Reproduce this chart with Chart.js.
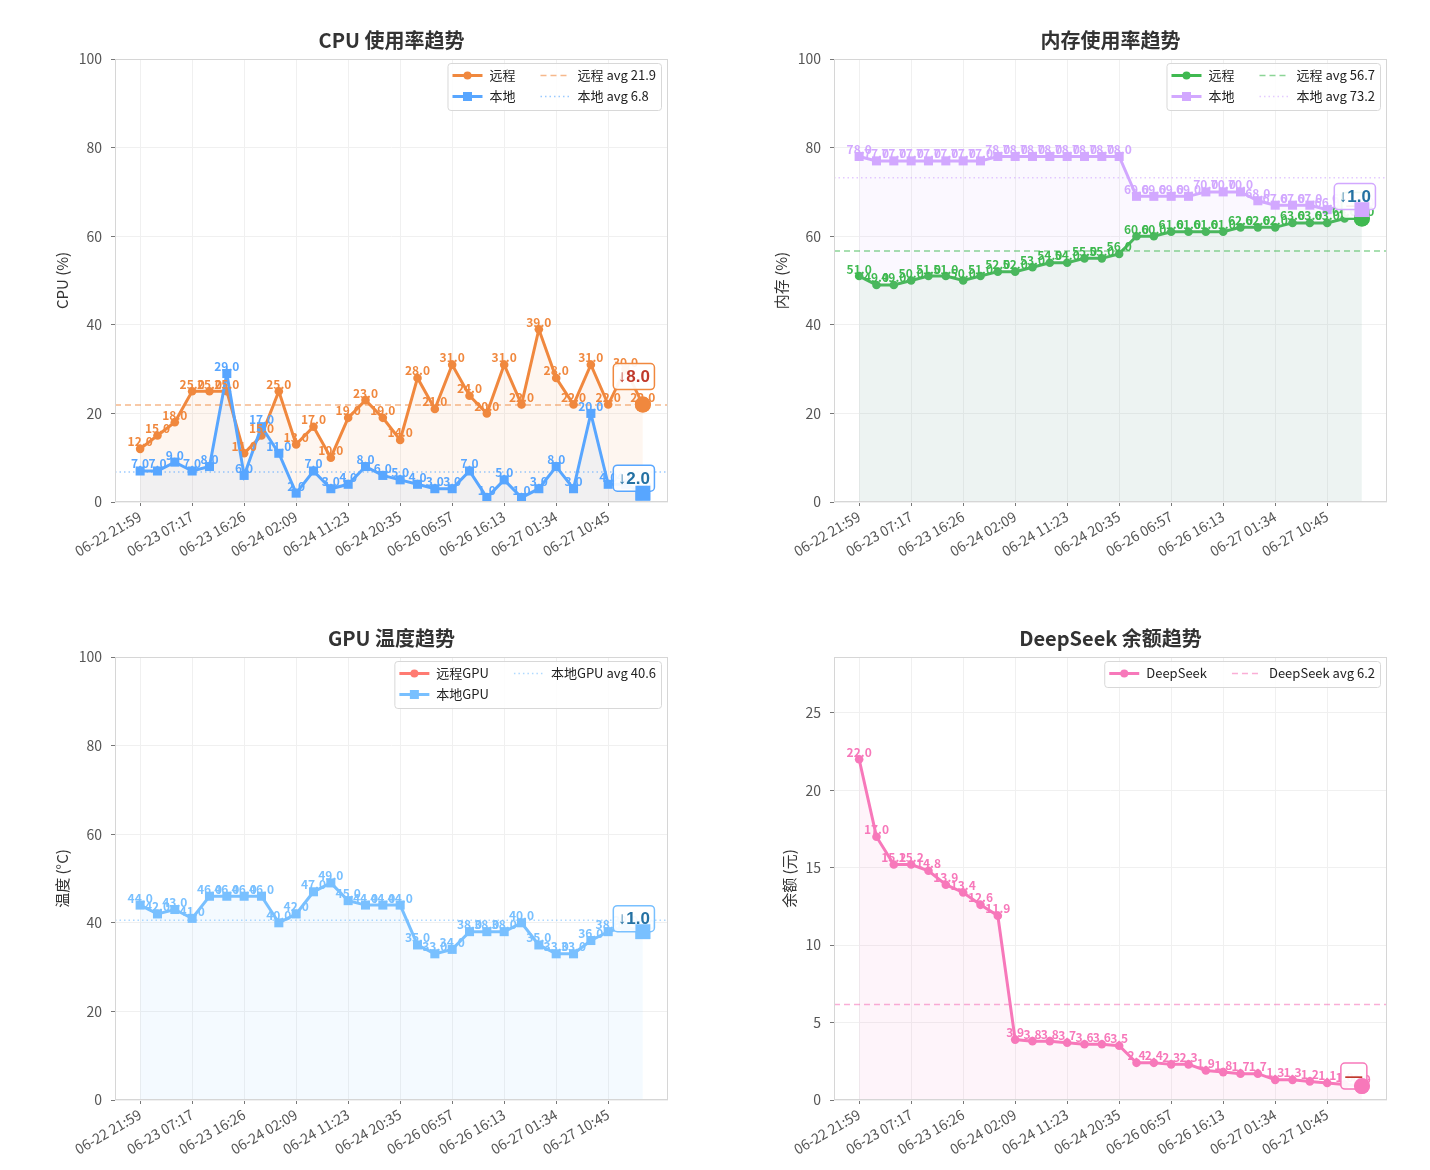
<!DOCTYPE html>
<html lang="zh-CN">
<head>
<meta charset="UTF-8">
<title>资源监控趋势</title>
<script src="https://cdn.jsdelivr.net/npm/chart.js@4.4.1/dist/chart.umd.min.js"></script>
<style>
    html, body { margin: 0; padding: 0; background: #fff; }
    #wrap { position: relative; width: 1430px; height: 1170px; overflow: hidden; }
    #wrap canvas { position: absolute; }
</style>
</head>
<body>
<div id="wrap">
    <canvas id="cpuChart" width="715" height="585" style="left:0;top:0"></canvas>
    <canvas id="memChart" width="715" height="585" style="left:715px;top:0"></canvas>
    <canvas id="gpuChart" width="715" height="572" style="left:0;top:598px"></canvas>
    <canvas id="dsChart" width="715" height="572" style="left:715px;top:598px"></canvas>
</div>
<script>
// ============================================
// DATA
// ============================================

const times = [
    '06-22 21:59', '06-23 01:05', '06-23 04:11', '06-23 07:17', '06-23 10:20',
    '06-23 13:23', '06-23 16:26', '06-23 19:40', '06-23 22:54', '06-24 02:09',
    '06-24 05:13', '06-24 08:18', '06-24 11:23', '06-24 14:27', '06-24 17:31',
    '06-24 20:35', '06-25 08:02', '06-25 19:30', '06-26 06:57', '06-26 10:02',
    '06-26 13:08', '06-26 16:13', '06-26 19:20', '06-26 22:27', '06-27 01:34',
    '06-27 04:37', '06-27 07:41', '06-27 10:45', '06-27 13:50', '06-27 16:54'
];
const xTickIdx = [0, 3, 6, 9, 12, 15, 18, 21, 24, 27];

const cpuRemote = [12, 15, 18, 25, 25, 25, 11, 15, 25, 13, 17, 10, 19, 23, 19, 14, 28, 21, 31, 24, 20, 31, 22, 39, 28, 22, 31, 22, 30, 22];
const cpuLocal  = [7, 7, 9, 7, 8, 29, 6, 17, 11, 2, 7, 3, 4, 8, 6, 5, 4, 3, 3, 7, 1, 5, 1, 3, 8, 3, 20, 4, 4, 2];

const memRemote = [51, 49, 49, 50, 51, 51, 50, 51, 52, 52, 53, 54, 54, 55, 55, 56, 60, 60, 61, 61, 61, 61, 62, 62, 62, 63, 63, 63, 64, 64];
const memLocal  = [78, 77, 77, 77, 77, 77, 77, 77, 78, 78, 78, 78, 78, 78, 78, 78, 69, 69, 69, 69, 70, 70, 70, 68, 67, 67, 67, 66, 67, 66];

const gpuRemote = [];
const gpuLocal  = [44, 42, 43, 41, 46, 46, 46, 46, 40, 42, 47, 49, 45, 44, 44, 44, 35, 33, 34, 38, 38, 38, 40, 35, 33, 33, 36, 38, 39, 38];

const dsBalance = [22.0, 17.0, 15.2, 15.2, 14.8, 13.9, 13.4, 12.6, 11.9, 3.9, 3.8, 3.8, 3.7, 3.6, 3.6, 3.5, 2.4, 2.4, 2.3, 2.3, 1.9, 1.8, 1.7, 1.7, 1.3, 1.3, 1.2, 1.1, 1.0, 0.9];

const pctTicks = [0, 20, 40, 60, 80, 100];
const dsTicks = [0, 5, 10, 15, 20, 25];

// ============================================
// STYLE
// ============================================

const FONT = '"Noto Sans CJK SC", "Noto Sans", sans-serif';
const X_MIN = -1.45;
const X_MAX = 30.45;

const C = {
    orange: '#f0883e',
    blue: '#58a6ff',
    green: '#3fb950',
    purple: '#d2a8ff',
    sky: '#79c0ff',
    red: '#ff7b72',
    pink: '#f778ba'
};

Chart.defaults.font.family = FONT;

function rgba(hex, a) {
    const n = parseInt(hex.slice(1), 16);
    return `rgba(${(n >> 16) & 255}, ${(n >> 8) & 255}, ${n & 255}, ${a})`;
}

function mean(arr) {
    return arr.reduce((s, v) => s + v, 0) / arr.length;
}

// main series line (markers, fill to zero, value labels, change badge)
function series(label, values, color, shape, badge, order) {
    const last = values.length - 1;
    const small = shape === 'rect' ? 6.4 : 4.3;
    const big = shape === 'rect' ? 10.5 : 8;
    return {
        label: label,
        values: values,
        shape: shape,
        badge: badge,
        order: order,
        data: values.map((v, i) => ({ x: i, y: v })),
        borderColor: color,
        backgroundColor: rgba(color, 0.08),
        fill: 'origin',
        borderWidth: 3,
        tension: 0,
        pointStyle: shape,
        pointRadius: ctx => ctx.dataIndex === last ? big : small,
        pointBackgroundColor: color,
        pointBorderColor: color,
        pointBorderWidth: 0
    };
}

// horizontal average line spanning the whole plot
function avgLine(label, values, color, dash) {
    const avg = mean(values);
    return {
        label: `${label} avg ${avg.toFixed(1)}`,
        isAvg: true,
        order: 0,
        data: [{ x: X_MIN, y: avg }, { x: X_MAX, y: avg }],
        borderColor: rgba(color, 0.6),
        borderWidth: 1.5,
        borderDash: dash,
        pointRadius: 0,
        fill: false
    };
}

// ============================================
// PLUGIN: frame, value labels, badges, legend
// ============================================

function drawBadge(ctx, el, ds) {
    const v = ds.values;
    if (v.length < 2) return;
    const d = Math.round((v[v.length - 1] - v[v.length - 2]) * 10) / 10;
    const text = Math.abs(d) < 0.5 ? '—' : (d < 0 ? '↓' : '↑') + Math.abs(d).toFixed(1);
    ctx.font = 'bold 17px "Liberation Sans", ' + FONT;
    const w = ctx.measureText(text).width + 9;
    const h = 26;
    const cx = el.x + ds.badge.dx;
    const cy = el.y + ds.badge.dy;
    ctx.beginPath();
    ctx.roundRect(cx - w / 2, cy - h / 2, w, h, 4);
    ctx.fillStyle = 'rgba(255,255,255,0.92)';
    ctx.fill();
    ctx.lineWidth = 1.5;
    ctx.strokeStyle = ds.borderColor;
    ctx.stroke();
    ctx.fillStyle = ds.badge.color;
    ctx.textAlign = 'center';
    ctx.textBaseline = 'middle';
    ctx.fillText(text, cx, cy + 1);
}

function drawHandle(ctx, ds, x, y) {
    ctx.save();
    ctx.strokeStyle = ds.borderColor;
    ctx.lineWidth = ds.isAvg ? 1.5 : 3;
    ctx.setLineDash(ds.borderDash || []);
    ctx.beginPath();
    ctx.moveTo(x, y);
    ctx.lineTo(x + 30, y);
    ctx.stroke();
    ctx.setLineDash([]);
    if (!ds.isAvg) {
        ctx.fillStyle = ds.borderColor;
        if (ds.shape === 'rect') {
            ctx.fillRect(x + 15 - 4.5, y - 4.5, 9, 9);
        } else {
            ctx.beginPath();
            ctx.arc(x + 15, y, 4, 0, Math.PI * 2);
            ctx.fill();
        }
    }
    ctx.restore();
}

function drawLegend(chart) {
    const ctx = chart.ctx;
    const area = chart.chartArea;
    const items = chart.data.datasets;
    const rows = Math.ceil(items.length / 2);
    const cols = [items.slice(0, rows), items.slice(rows)];
    ctx.save();
    ctx.font = '13px ' + FONT;
    const textW = cols.map(col => Math.max(...col.map(ds => ctx.measureText(ds.label).width)));
    const colW = textW.map(t => 30 + 7 + t);
    const boxW = 5 + colW[0] + 25 + colW[1] + 5;
    const rowH = 21;
    const boxH = 2 + rows * rowH + 3;
    const left = area.right - 7 - boxW;
    const top = area.top + 4;

    ctx.beginPath();
    ctx.roundRect(left + 0.5, top + 0.5, boxW, boxH, 3);
    ctx.fillStyle = 'rgba(255,255,255,0.85)';
    ctx.fill();
    ctx.strokeStyle = '#d8d8d8';
    ctx.lineWidth = 1;
    ctx.stroke();

    let x = left + 5;
    cols.forEach((col, ci) => {
        col.forEach((ds, ri) => {
            const y = top + 2 + rowH * ri + rowH / 2;
            drawHandle(ctx, ds, x, y);
            ctx.fillStyle = '#222';
            ctx.textAlign = 'left';
            ctx.textBaseline = 'middle';
            ctx.fillText(ds.label, x + 37, y);
        });
        x += colW[ci] + 25;
    });
    ctx.restore();
}

const decorations = {
    id: 'decorations',
    afterDatasetsDraw(chart) {
        const ctx = chart.ctx;
        const main = chart.data.datasets
            .map((ds, i) => ({ ds: ds, meta: chart.getDatasetMeta(i) }))
            .filter(s => s.ds.values && s.ds.values.length);

        ctx.save();
        // value labels above every point
        ctx.font = 'bold 12px ' + FONT;
        ctx.textAlign = 'center';
        ctx.textBaseline = 'alphabetic';
        main.forEach(s => {
            ctx.fillStyle = s.ds.borderColor;
            s.meta.data.forEach((el, i) => {
                ctx.fillText(s.ds.values[i].toFixed(1), el.x, el.y - 2.5);
            });
        });
        // change badge next to the last point
        main.forEach(s => {
            const el = s.meta.data[s.meta.data.length - 1];
            if (s.ds.badge) drawBadge(ctx, el, s.ds);
        });
        ctx.restore();
        // last (big) marker stays on top
        main.forEach(s => {
            s.meta.data[s.meta.data.length - 1].draw(ctx, chart.chartArea);
        });
    },
    afterDraw(chart) {
        const ctx = chart.ctx;
        const a = chart.chartArea;
        ctx.save();
        ctx.strokeStyle = '#d6d6d6';
        ctx.lineWidth = 1;
        ctx.strokeRect(a.left + 0.5, a.top + 0.5, a.right - a.left - 1, a.bottom - a.top - 1);
        ctx.restore();
        drawLegend(chart);
    }
};

// ============================================
// CHART FACTORY
// ============================================

function buildChart(canvasId, opt) {
    const ctx = document.getElementById(canvasId).getContext('2d');
    return new Chart(ctx, {
        type: 'line',
        data: { datasets: opt.datasets },
        plugins: [decorations],
        options: {
            responsive: false,
            animation: false,
            events: [],
            layout: { padding: { left: 0, right: opt.padRight, top: 0, bottom: 0 } },
            plugins: {
                legend: { display: false },
                tooltip: { enabled: false },
                title: {
                    display: true,
                    text: opt.title,
                    fullSize: false,
                    color: '#333',
                    font: { size: 20, weight: 'bold', lineHeight: 1.2 },
                    padding: { top: 28, bottom: 7 }
                }
            },
            scales: {
                x: {
                    type: 'linear',
                    min: X_MIN,
                    max: X_MAX,
                    afterBuildTicks: s => { s.ticks = xTickIdx.map(v => ({ value: v })); },
                    afterFit: s => { s.height = opt.xHeight; },
                    border: { display: false },
                    grid: { color: '#f0f0f0', tickColor: '#777', tickLength: 4 },
                    ticks: {
                        autoSkip: false,
                        minRotation: 30,
                        maxRotation: 30,
                        padding: 2,
                        color: '#555',
                        font: { size: 14 },
                        callback: v => times[v]
                    }
                },
                y: {
                    min: 0,
                    max: opt.yMax,
                    afterBuildTicks: s => { s.ticks = opt.yTicks.map(v => ({ value: v })); },
                    afterFit: s => { s.width = opt.yWidth; },
                    border: { display: false },
                    grid: { color: '#f0f0f0', tickColor: '#777', tickLength: 4 },
                    ticks: { padding: 9, color: '#555', font: { size: 14 } },
                    title: {
                        display: true,
                        text: opt.yTitle,
                        color: '#333',
                        font: { size: 15, lineHeight: 1.2 },
                        padding: { top: opt.yTitleX - 9, bottom: 0 }
                    }
                }
            }
        }
    });
}

// ============================================
// INITIALIZATION
// ============================================

function init() {
    buildChart('cpuChart', {
        title: 'CPU 使用率趋势', yTitle: 'CPU (%)', yTitleX: 62,
        yWidth: 115, padRight: 47, xHeight: 83, yMax: 100, yTicks: pctTicks,
        datasets: [
            series('远程', cpuRemote, C.orange, 'circle', { color: '#c0392b', dx: -9, dy: -28 }, 2),
            series('本地', cpuLocal, C.blue, 'rect', { color: '#2471a3', dx: -9, dy: -15 }, 1),
            avgLine('远程', cpuRemote, C.orange, [6, 4]),
            avgLine('本地', cpuLocal, C.blue, [1.5, 3])
        ]
    });

    buildChart('memChart', {
        title: '内存使用率趋势', yTitle: '内存 (%)', yTitleX: 66,
        yWidth: 119, padRight: 43, xHeight: 83, yMax: 100, yTicks: pctTicks,
        datasets: [
            series('远程', memRemote, C.green, 'circle', { color: '#c0392b', dx: -7, dy: -13 }, 2),
            series('本地', memLocal, C.purple, 'rect', { color: '#2471a3', dx: -7, dy: -13 }, 1),
            avgLine('远程', memRemote, C.green, [6, 4]),
            avgLine('本地', memLocal, C.purple, [1.5, 3])
        ]
    });

    buildChart('gpuChart', {
        title: 'GPU 温度趋势', yTitle: '温度 (°C)', yTitleX: 62,
        yWidth: 115, padRight: 47, xHeight: 70, yMax: 100, yTicks: pctTicks,
        datasets: [
            series('远程GPU', gpuRemote, C.red, 'circle', null, 2),
            series('本地GPU', gpuLocal, C.sky, 'rect', { color: '#2471a3', dx: -9, dy: -13 }, 1),
            avgLine('本地GPU', gpuLocal, C.sky, [1.5, 3])
        ]
    });

    buildChart('dsChart', {
        title: 'DeepSeek 余额趋势', yTitle: '余额 (元)', yTitleX: 74,
        yWidth: 119, padRight: 43, xHeight: 70, yMax: 28.6, yTicks: dsTicks,
        datasets: [
            series('DeepSeek', dsBalance, C.pink, 'circle', { color: '#c0392b', dx: -8, dy: -10 }, 1),
            avgLine('DeepSeek', dsBalance, C.pink, [6, 4])
        ]
    });
}

init();
</script>
</body>
</html>
